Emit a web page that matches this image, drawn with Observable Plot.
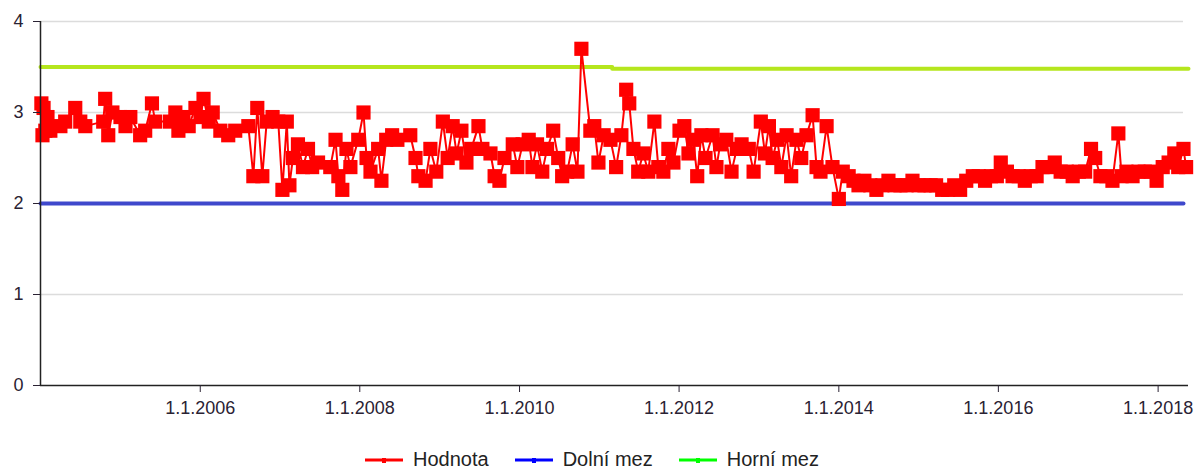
<!DOCTYPE html>
<html><head><meta charset="utf-8">
<script src="https://cdn.jsdelivr.net/npm/d3@7"></script>
<script src="https://cdn.jsdelivr.net/npm/@observablehq/plot@0.6"></script>
<style>
html,body{margin:0;padding:0;background:#fff;}
body{width:1200px;height:469px;overflow:hidden;font-family:"Liberation Sans",Arial,sans-serif;}
#legend{display:flex;justify-content:center;align-items:center;height:39px;box-sizing:border-box;padding-top:20px;padding-right:16px;font-size:20px;color:#222;}
.item{display:flex;align-items:center;margin:0 13px;}
.item svg{margin-right:10px;}
</style></head><body>
<div id="chart"></div>
<div id="legend"></div>
<script>
const dates = ["2004-01-05","2004-01-10","2004-01-15","2004-01-23","2004-02-02","2004-02-15","2004-04-01","2004-04-23","2004-06-08","2004-07-01",
"2004-07-24","2004-10-14","2004-10-23","2004-11-06","2004-11-25","2005-01-01","2005-01-24","2005-02-15","2005-04-01","2005-04-24",
"2005-05-25","2005-06-09","2005-08-16","2005-09-09","2005-09-23","2005-10-16","2005-11-09","2005-12-10","2006-01-02","2006-01-16",
"2006-02-09","2006-02-27","2006-04-03","2006-05-09","2006-06-10","2006-08-09","2006-09-01","2006-09-19","2006-10-12","2006-11-01",
"2006-11-28","2006-12-24","2007-01-12","2007-02-01","2007-02-13","2007-03-01","2007-03-24","2007-04-16","2007-05-09","2007-05-28",
"2007-06-24","2007-08-19","2007-09-12","2007-09-25","2007-10-13","2007-11-01","2007-11-19","2007-12-25","2008-01-18","2008-02-01",
"2008-02-19","2008-03-25","2008-04-09","2008-05-01","2008-05-28","2008-06-21","2008-08-19","2008-09-12","2008-09-25","2008-10-28",
"2008-11-19","2008-12-16","2009-01-15","2009-02-06","2009-03-01","2009-03-19","2009-04-10","2009-05-03","2009-05-25","2009-06-27",
"2009-07-15","2009-08-21","2009-09-09","2009-10-01","2009-10-24","2009-12-01","2009-12-22","2010-01-15","2010-02-12","2010-03-01",
"2010-03-22","2010-04-15","2010-05-07","2010-06-04","2010-06-27","2010-07-15","2010-08-07","2010-09-01","2010-09-23","2010-10-11",
"2010-11-21","2010-12-09","2010-12-28","2011-01-21","2011-02-21","2011-03-19","2011-04-12","2011-05-04","2011-05-18","2011-06-06",
"2011-06-28","2011-07-21","2011-08-13","2011-09-10","2011-09-28","2011-10-21","2011-11-13","2011-12-06","2012-01-03","2012-01-25",
"2012-02-13","2012-03-06","2012-03-24","2012-04-12","2012-05-01","2012-06-02","2012-06-20","2012-07-07","2012-08-04","2012-08-28",
"2012-09-21","2012-10-13","2012-11-15","2012-12-07","2013-01-09","2013-01-28","2013-02-15","2013-03-04","2013-03-25","2013-04-13",
"2013-05-07","2013-05-28","2013-06-21","2013-07-13","2013-08-06","2013-09-03","2013-09-21","2013-10-09","2013-11-06","2013-12-03",
"2014-01-01","2014-01-19","2014-02-15","2014-03-09","2014-04-01","2014-04-28","2014-05-25","2014-06-22","2014-07-19","2014-08-16",
"2014-09-13","2014-10-10","2014-11-07","2014-12-04","2015-01-01","2015-01-28","2015-02-25","2015-03-22","2015-04-19","2015-05-16",
"2015-06-13","2015-07-10","2015-08-07","2015-09-06","2015-10-03","2015-11-01","2015-11-28","2015-12-25","2016-01-12","2016-02-09",
"2016-03-06","2016-04-03","2016-05-01","2016-05-28","2016-06-24","2016-07-21","2016-08-18","2016-09-15","2016-10-12","2016-11-09",
"2016-12-06","2017-01-03","2017-02-01","2017-02-28","2017-03-19","2017-04-12","2017-05-09","2017-06-06","2017-07-03","2017-07-18",
"2017-08-09","2017-09-06","2017-10-03","2017-11-01","2017-11-28","2017-12-25","2018-01-22","2018-02-18","2018-03-16","2018-04-03",
"2018-04-27","2018-05-09"];
const values = [3.1,2.75,3.05,2.8,2.95,2.8,2.85,2.9,3.05,2.9,
2.85,2.9,3.15,2.75,3.0,2.95,2.85,2.95,2.75,2.8,
3.1,2.9,2.9,3.0,2.8,2.95,2.85,3.05,2.95,3.15,
2.9,3.0,2.8,2.75,2.8,2.85,2.3,3.05,2.3,2.9,
2.95,2.9,2.15,2.9,2.2,2.5,2.65,2.4,2.6,2.4,
2.45,2.4,2.7,2.3,2.15,2.6,2.4,2.7,3.0,2.5,
2.35,2.6,2.25,2.7,2.75,2.7,2.75,2.5,2.3,2.25,
2.6,2.35,2.9,2.5,2.85,2.55,2.8,2.45,2.6,2.85,
2.6,2.55,2.3,2.25,2.5,2.65,2.4,2.65,2.7,2.4,
2.65,2.35,2.6,2.8,2.5,2.3,2.35,2.65,2.35,3.7,
2.8,2.85,2.45,2.75,2.7,2.4,2.75,3.25,3.1,2.6,
2.35,2.55,2.35,2.9,2.4,2.35,2.6,2.45,2.8,2.85,
2.55,2.7,2.3,2.75,2.5,2.75,2.4,2.65,2.7,2.35,
2.6,2.65,2.6,2.35,2.9,2.55,2.85,2.5,2.7,2.4,
2.75,2.3,2.7,2.5,2.75,2.97,2.4,2.35,2.85,2.4,
2.05,2.35,2.3,2.25,2.2,2.25,2.2,2.15,2.2,2.25,
2.2,2.2,2.2,2.25,2.2,2.2,2.2,2.2,2.15,2.15,
2.2,2.15,2.25,2.3,2.3,2.25,2.3,2.3,2.45,2.35,
2.3,2.3,2.25,2.3,2.3,2.4,2.4,2.45,2.35,2.35,
2.3,2.35,2.35,2.6,2.5,2.3,2.3,2.25,2.77,2.3,
2.35,2.3,2.35,2.35,2.35,2.25,2.4,2.45,2.55,2.4,
2.6,2.4];
const upperDates = ["2004-01-01","2011-03-01","2018-05-20"];
const upperValues = [3.5,3.48,3.48];
const lowerDates = ["2004-01-01","2018-04-27"];
const lowerValues = [2.0,2.0];
const yTicks = [0,1,2,3,4];
const xTickYears = [2006,2008,2010,2012,2014,2016,2018];
const seriesNames = ["Hodnota","Dolní mez","Horní mez"];
const legendColors = ["#ff0000","#0000ff","#00ff00"];

const parse = d3.utcParse("%Y-%m-%d");
const data = dates.map((d,i)=>({date:parse(d), value:values[i]}));
const upper = upperDates.map((d,i)=>({date:parse(d), value:upperValues[i]}));
const lower = lowerDates.map((d,i)=>({date:parse(d), value:lowerValues[i]}));
const x0 = parse("2004-01-01"), x1 = parse("2018-05-20"), gridEnd = parse("2018-04-27");
const xTicks = xTickYears.map(y=>new Date(Date.UTC(y,0,1)));

const chart = Plot.plot({
  width:1200, height:430, marginLeft:40, marginRight:12, marginTop:21, marginBottom:45,
  style:{fontFamily:"'Liberation Sans', Arial, sans-serif", fontSize:"18px", color:"#2a2233", background:"#fff"},
  x:{type:"utc", domain:[x0,x1], label:null},
  y:{domain:[0,4], label:null},
  marks:[
    Plot.ruleY(yTicks.slice(1), {y:d=>d, x1:()=>x0, x2:()=>gridEnd, stroke:"#dcdcdc", strokeWidth:1.5}),
    Plot.line(lower,{x:"date",y:"value",stroke:"#3f48cc",strokeWidth:4}),
    Plot.line(upper,{x:"date",y:"value",stroke:"#b5e61d",strokeWidth:4,curve:"step-after"}),
    Plot.line(data,{x:"date",y:"value",stroke:"#ff0000",strokeWidth:2}),
    Plot.dot(data,{x:"date",y:"value",symbol:"square",r:8,fill:"#ff0000",stroke:"none"}),
    Plot.ruleX([x0],{y1:0,y2:4,stroke:"#222",strokeWidth:1.5}),
    Plot.ruleY([0],{x1:()=>x0,x2:()=>x1,stroke:"#222",strokeWidth:1.5}),
    Plot.axisX(xTicks,{tickSize:7,tickPadding:9,tickFormat:d=>`1.1.${d.getUTCFullYear()}`}),
    Plot.axisY(yTicks,{tickSize:7,tickPadding:10,tickFormat:d=>String(d)})
  ]
});
document.getElementById("chart").appendChild(chart);

const legend = document.getElementById("legend");
seriesNames.forEach((name,i)=>{
  const item = document.createElement("div");
  item.className = "item";
  item.innerHTML = `<svg width="38" height="10"><line x1="0" y1="5" x2="38" y2="5" stroke="${legendColors[i]}" stroke-width="3"/><rect x="17" y="3" width="4" height="5" fill="${legendColors[i]}"/></svg><span>${name}</span>`;
  legend.appendChild(item);
});
</script>
</body></html>
